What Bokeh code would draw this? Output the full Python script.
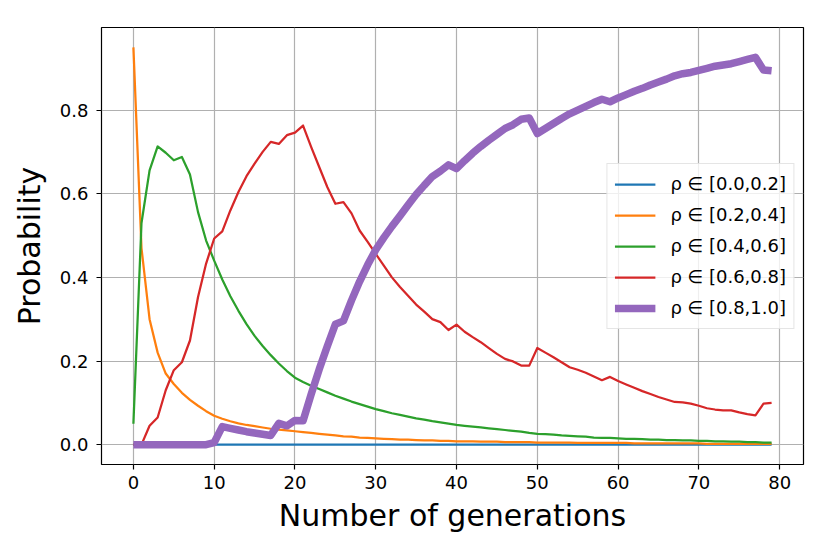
from bokeh.plotting import figure
from bokeh.models import Range1d, FixedTicker, PrintfTickFormatter, Legend, LegendItem
from bokeh.embed import file_html
from bokeh.resources import INLINE

generations = list(range(80))

labels = ["ρ ∈ [0.0,0.2]", "ρ ∈ [0.2,0.4]", "ρ ∈ [0.4,0.6]",
          "ρ ∈ [0.6,0.8]", "ρ ∈ [0.8,1.0]"]
colors = ["#1f77b4", "#ff7f0e", "#2ca02c", "#d62728", "#9467bd"]

p_00_02 = [0.0] * 80

p_02_04 = [0.95, 0.47, 0.30, 0.22, 0.17, 0.145, 0.124, 0.107, 0.093, 0.080,
           0.069, 0.062, 0.056, 0.051, 0.047, 0.044, 0.041, 0.038, 0.036, 0.034,
           0.032, 0.030, 0.028, 0.026, 0.024, 0.022, 0.020, 0.019, 0.017, 0.016,
           0.015, 0.014, 0.013, 0.012, 0.012, 0.011, 0.010, 0.010, 0.009, 0.009,
           0.008, 0.008, 0.008, 0.007, 0.007, 0.007, 0.006, 0.006, 0.006, 0.006,
           0.005, 0.005, 0.005, 0.005, 0.005, 0.004, 0.004, 0.004, 0.004, 0.004,
           0.004, 0.004, 0.003, 0.003, 0.003, 0.003, 0.003, 0.003, 0.003, 0.003,
           0.003, 0.002, 0.002, 0.002, 0.002, 0.002, 0.002, 0.002, 0.002, 0.002]

p_04_06 = [0.05, 0.53, 0.656, 0.713, 0.698, 0.68, 0.688, 0.646, 0.556, 0.488,
           0.44, 0.395, 0.355, 0.32, 0.288, 0.26, 0.236, 0.214, 0.194, 0.176,
           0.16, 0.150, 0.141, 0.133, 0.125, 0.117, 0.110, 0.103, 0.097, 0.091,
           0.085, 0.080, 0.075, 0.071, 0.067, 0.063, 0.060, 0.056, 0.053, 0.050,
           0.047, 0.045, 0.043, 0.041, 0.039, 0.037, 0.035, 0.033, 0.031, 0.028,
           0.026, 0.025, 0.024, 0.022, 0.021, 0.020, 0.019, 0.017, 0.016, 0.016,
           0.015, 0.014, 0.014, 0.013, 0.012, 0.012, 0.011, 0.011, 0.010, 0.010,
           0.009, 0.009, 0.008, 0.008, 0.007, 0.007, 0.006, 0.006, 0.005, 0.005]

p_06_08 = [0.0, 0.0, 0.045, 0.065, 0.13, 0.178, 0.197, 0.249, 0.353, 0.433,
           0.493, 0.51, 0.56, 0.604, 0.642, 0.672, 0.70, 0.724, 0.719, 0.74,
           0.746, 0.763, 0.712, 0.664, 0.616, 0.576, 0.58, 0.553, 0.512, 0.485,
           0.456, 0.428, 0.40, 0.377, 0.356, 0.335, 0.318, 0.30, 0.293, 0.274,
           0.287, 0.27, 0.257, 0.245, 0.231, 0.217, 0.205, 0.199, 0.189, 0.189,
           0.231, 0.22, 0.209, 0.197, 0.185, 0.179, 0.172, 0.163, 0.154, 0.162,
           0.152, 0.144, 0.136, 0.128, 0.121, 0.114, 0.108, 0.102, 0.101, 0.098,
           0.093, 0.087, 0.084, 0.082, 0.082, 0.077, 0.073, 0.070, 0.098, 0.10]

p_08_10 = [0.0, 0.0, 0.0, 0.0, 0.0, 0.0, 0.0, 0.0, 0.0, 0.0,
           0.005, 0.043, 0.039, 0.035, 0.031, 0.028, 0.025, 0.022, 0.051, 0.045,
           0.058, 0.057, 0.12, 0.18, 0.235, 0.288, 0.296, 0.345, 0.39, 0.43,
           0.466, 0.495, 0.522, 0.547, 0.573, 0.598, 0.62, 0.641, 0.654, 0.669,
           0.66, 0.679, 0.697, 0.713, 0.728, 0.742, 0.756, 0.765, 0.778, 0.781,
           0.744, 0.756, 0.768, 0.78, 0.791, 0.80, 0.809, 0.818, 0.826, 0.82,
           0.829, 0.837, 0.845, 0.852, 0.86, 0.867, 0.874, 0.882, 0.887, 0.89,
           0.895, 0.90, 0.905, 0.908, 0.911, 0.916, 0.921, 0.926, 0.896, 0.894]

series = [p_00_02, p_02_04, p_04_06, p_06_08, p_08_10]
widths = [2.25, 2.25, 2.25, 2.25, 7.5]

x_ticks = [0, 10, 20, 30, 40, 50, 60, 70, 80]
y_ticks = [0.0, 0.2, 0.4, 0.6, 0.8]

FONT = "DejaVu Sans"

p = figure(width=822, height=546, output_backend="svg", toolbar_location=None,
           x_range=Range1d(-3.95, 82.95), y_range=Range1d(-0.0475, 0.9975),
           min_border_left=101, min_border_right=19, min_border_top=27, min_border_bottom=82)

p.background_fill_color = "white"
p.border_fill_color = "white"
p.outline_line_color = "black"
p.outline_line_width = 1.2

items = []
for ys, c, w, lab in zip(series, colors, widths, labels):
    r = p.line(generations, ys, line_color=c, line_width=w, line_join="round")
    items.append(LegendItem(label=lab, renderers=[r]))

legend = Legend(items=items, location="right")
legend.margin = 9
legend.padding = 7
legend.spacing = 5
legend.glyph_height = 26
legend.glyph_width = 41
legend.label_standoff = 15
legend.label_text_font = FONT
legend.label_text_font_size = "18px"
legend.label_text_color = "black"
legend.border_line_color = "#cccccc"
legend.border_line_width = 1.2
legend.background_fill_color = "white"
legend.background_fill_alpha = 0.8
p.add_layout(legend)

p.xaxis.ticker = FixedTicker(ticks=x_ticks)
p.yaxis.ticker = FixedTicker(ticks=y_ticks)
p.yaxis.formatter = PrintfTickFormatter(format="%.1f")
p.xgrid.ticker = FixedTicker(ticks=x_ticks)
p.ygrid.ticker = FixedTicker(ticks=y_ticks)

for ax in [p.xaxis, p.yaxis]:
    ax.axis_line_color = None
    ax.major_tick_line_color = "black"
    ax.major_tick_line_width = 1.2
    ax.major_tick_out = 5
    ax.major_tick_in = 0
    ax.minor_tick_line_color = None
    ax.major_label_text_font = FONT
    ax.major_label_text_font_size = "18px"
    ax.major_label_text_color = "black"
    ax.axis_label_text_font = FONT
    ax.axis_label_text_font_size = "30px"
    ax.axis_label_text_font_style = "normal"
    ax.axis_label_text_color = "black"

p.xaxis.axis_label = "Number of generations"
p.yaxis.axis_label = "Probability"
p.xaxis.major_label_standoff = 6
p.yaxis.major_label_standoff = 8
p.xaxis.axis_label_standoff = 6
p.yaxis.axis_label_standoff = 10

for g in [p.xgrid, p.ygrid]:
    g.grid_line_color = "#b0b0b0"
    g.grid_line_width = 1.2

open("out.html", "w").write(file_html(p, INLINE))
